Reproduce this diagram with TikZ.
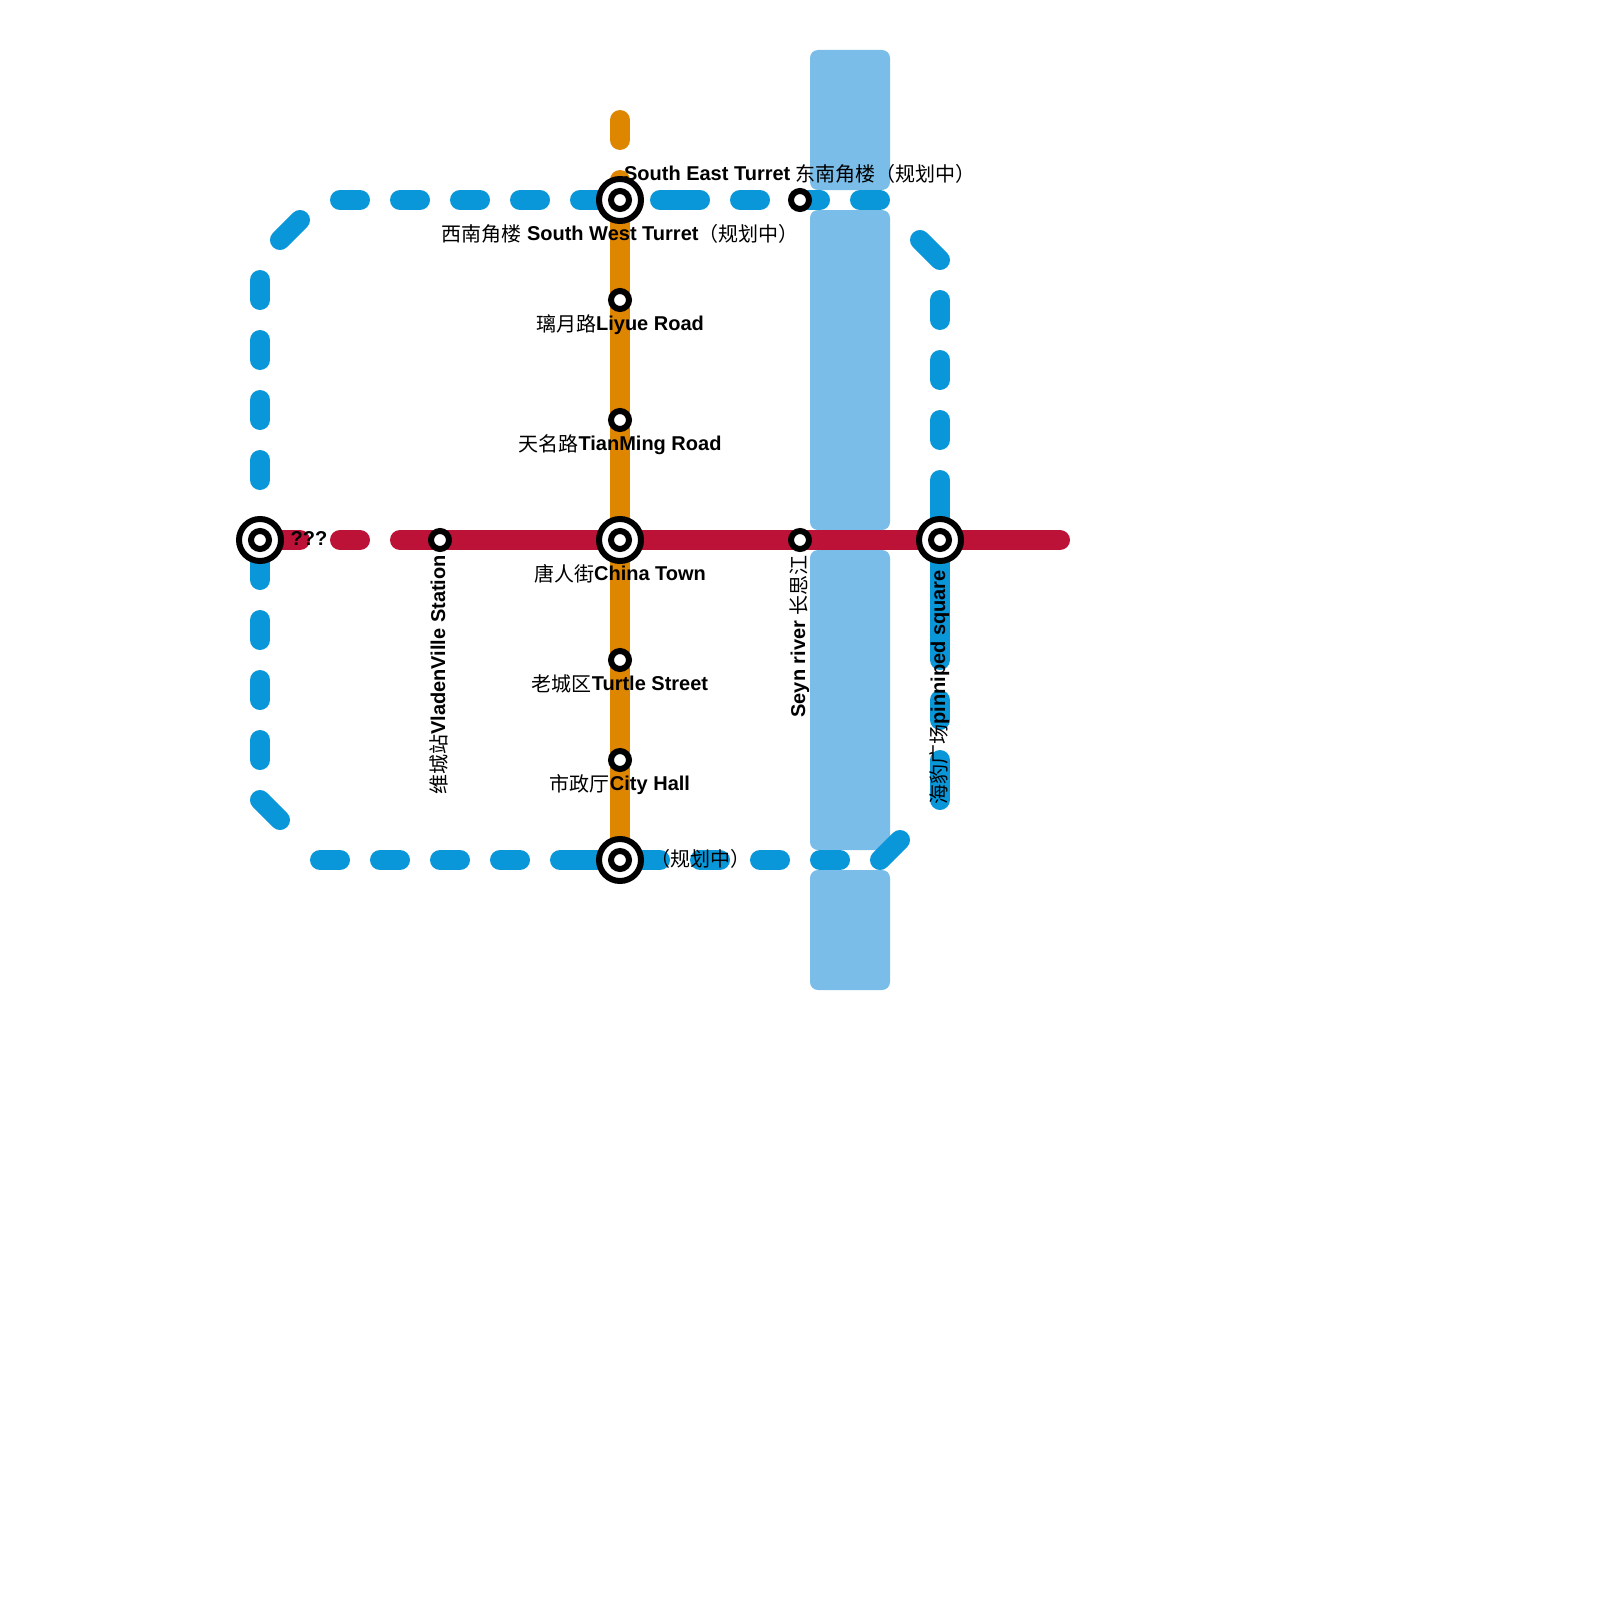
\documentclass[tikz,border=0pt]{standalone}
\usepackage{fontspec}
\setmainfont{Liberation Sans}
\newfontfamily\cjk{Noto Sans CJK SC}
\newcommand\zh[1]{\raisebox{-1.6pt}{\cjk\mdseries #1}}
\usetikzlibrary{backgrounds}
\definecolor{bluel}{HTML}{0A97D9}
\definecolor{redl}{HTML}{BC1238}
\definecolor{orangel}{HTML}{DF8600}
\definecolor{riverc}{HTML}{7ABDE8}
\tikzset{
  river/.style={fill=riverc,draw=none,rounded corners=8pt},
  metro/.style={line width=20pt,line cap=round},
  blueseg/.style={metro,draw=bluel},
  redseg/.style={metro,draw=redl},
  orangeseg/.style={metro,draw=orangel},
  ringsmall/.style={circle,draw=black,fill=white,line width=6pt,minimum size=18pt,inner sep=0pt},
  ringbig/.style={circle,draw=black,fill=white,line width=6pt,minimum size=42pt,inner sep=0pt},
  lab/.style={font=\fontsize{20}{24}\selectfont\bfseries,text=black,inner sep=0pt,anchor=base},
  vlab/.style={lab,rotate=90,anchor=base east},
}
\begin{document}
\begin{tikzpicture}[x=1pt,y=-1pt]
\useasboundingbox (0,0) rectangle (1600,1600);
% stations
\node[ringbig] (swt) at (620,200) {}; \node[ringsmall] (swtc) at (620,200) {};
\node[ringbig] (w) at (260,540) {}; \node[ringsmall] (wc) at (260,540) {};
\node[ringbig] (ct) at (620,540) {}; \node[ringsmall] (ctc) at (620,540) {};
\node[ringbig] (ps) at (940,540) {}; \node[ringsmall] (psc) at (940,540) {};
\node[ringbig] (sth) at (620,860) {}; \node[ringsmall] (sthc) at (620,860) {};
\node[ringsmall] (set) at (800,200) {};
\node[ringsmall] (ly) at (620,300) {};
\node[ringsmall] (tm) at (620,420) {};
\node[ringsmall] (ts) at (620,660) {};
\node[ringsmall] (ch) at (620,760) {};
\node[ringsmall] (vv) at (440,540) {};
\node[ringsmall] (sr) at (800,540) {};
\coordinate (otop) at (620,180);
\coordinate (rend) at (1060,540);
\coordinate (rwest) at (300,540);
\coordinate (rmid) at (400,540);
\begin{pgfonlayer}{background}
  \fill[river] (810,50) rectangle (890,190);
  \fill[river] (810,210) rectangle (890,530);
  \fill[river] (810,550) rectangle (890,850);
  \fill[river] (810,870) rectangle (890,990);
  % blue line
  \foreach \a/\b in {340/360,400/420,460/480,520/540,580/610,660/700,740/760,800/820,860/880}
    \draw[blueseg] (\a,200) -- (\b,200);
  \foreach \a/\b in {320/340,380/400,440/460,500/520,560/660,700/720,760/780,820/840}
    \draw[blueseg] (\a,860) -- (\b,860);
  \foreach \a/\b in {280/300,340/360,400/420,460/480,550/580,620/640,680/700,740/760}
    \draw[blueseg] (260,\a) -- (260,\b);
  \foreach \a/\b in {300/320,360/380,420/440,480/660,700/720,760/800}
    \draw[blueseg] (940,\a) -- (940,\b);
  \draw[blueseg] (280,240) -- (300,220);
  \draw[blueseg] (260,800) -- (280,820);
  \draw[blueseg] (880,860) -- (900,840);
  \draw[blueseg] (920,240) -- (940,260);
  % orange line
  \draw[orangeseg] (620,120) -- (620,140);
  \draw[orangeseg] (otop) -- (sth.center);
  % red line
  \draw[redseg] (w.center) -- (rwest);
  \draw[redseg] (340,540) -- (360,540);
  \draw[redseg] (rmid) -- (rend);
\end{pgfonlayer}
% labels
\node[lab] (lset) at (800,180) {South East Turret \zh{东南角楼（规划中）}};
\node[lab] (lswt) at (620,240) {\zh{西南角楼} South West Turret\zh{（规划中）}};
\node[lab] (lly) at (620,330) {\zh{璃月路}Liyue Road};
\node[lab] (ltm) at (620,450) {\zh{天名路}TianMing Road};
\node[lab] (lct) at (620,580) {\zh{唐人街}China Town};
\node[lab] (lts) at (620,690) {\zh{老城区}Turtle Street};
\node[lab] (lch) at (620,790) {\zh{市政厅}City Hall};
\node[lab] (lsth) at (700,865) {\zh{（规划中）}};
\node[lab] (lw) at (309,545) {???};
\node[vlab] (lvv) at (445,555) {\zh{维城站}VladenVille Station};
\node[vlab] (lsr) at (805,555) {Seyn river \zh{长思江}};
\node[vlab] (lps) at (945,570) {\zh{海豹广场}pinniped square};
\end{tikzpicture}
\end{document}
